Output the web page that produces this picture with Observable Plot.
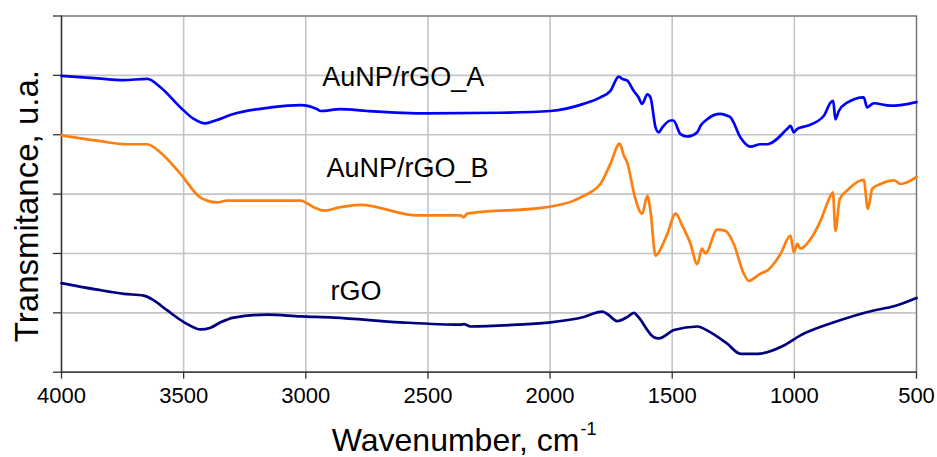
<!DOCTYPE html>
<html>
<head>
<meta charset="utf-8">
<script src="https://cdn.jsdelivr.net/npm/d3@7"></script>
<script src="https://cdn.jsdelivr.net/npm/@observablehq/plot@0.6"></script>
<style>
  html, body { margin: 0; padding: 0; background: #fff; }
  #chart { width: 937px; height: 457px; }
</style>
</head>
<body>
<div id="chart"></div>
<script>
// ---- data ----
const seriesNames = ["AuNP/rGO_A", "AuNP/rGO_B", "rGO"];
const seriesColors = ["#0000ff", "#ff7f0e", "#000080"];

const aWavenumber = [4000, 3853, 3746, 3649, 3595, 3513, 3460, 3411, 3370, 3296, 3144, 3022, 2953, 2940, 2858, 2749, 2503, 2203, 1998, 1863, 1794, 1753, 1719, 1705, 1684, 1658, 1638, 1623, 1602, 1589, 1568, 1555, 1541, 1507, 1495, 1466, 1439, 1398, 1384, 1357, 1330, 1302, 1275, 1261, 1220, 1180, 1139, 1111, 1029, 1016, 1002, 988, 947, 879, 852, 841, 832, 818, 784, 716, 702, 675, 606, 565, 500];
const aTransmittance = [4.99, 4.95, 4.92, 4.94, 4.80, 4.46, 4.27, 4.19, 4.24, 4.35, 4.46, 4.50, 4.43, 4.40, 4.43, 4.40, 4.36, 4.37, 4.40, 4.52, 4.63, 4.74, 4.98, 4.94, 4.91, 4.74, 4.63, 4.52, 4.68, 4.63, 4.12, 4.04, 4.12, 4.24, 4.24, 4.01, 3.97, 4.04, 4.15, 4.26, 4.33, 4.35, 4.32, 4.29, 3.95, 3.80, 3.84, 3.84, 4.10, 4.15, 4.04, 4.10, 4.15, 4.32, 4.54, 4.57, 4.26, 4.40, 4.54, 4.63, 4.46, 4.53, 4.49, 4.50, 4.55];

const bWavenumber = [4000, 3854, 3731, 3649, 3595, 3513, 3431, 3404, 3363, 3322, 3022, 2968, 2926, 2858, 2776, 2544, 2367, 2353, 2340, 2012, 1903, 1863, 1830, 1794, 1753, 1715, 1698, 1684, 1654, 1623, 1602, 1589, 1568, 1555, 1520, 1486, 1459, 1425, 1398, 1378, 1364, 1316, 1282, 1248, 1207, 1187, 1139, 1111, 1057, 1016, 1002, 988, 975, 934, 893, 852, 842, 832, 814, 784, 729, 716, 699, 681, 647, 593, 565, 538, 500];
const bTransmittance = [3.99, 3.90, 3.84, 3.84, 3.70, 3.34, 2.94, 2.89, 2.86, 2.89, 2.89, 2.78, 2.72, 2.78, 2.82, 2.64, 2.64, 2.61, 2.67, 2.78, 2.89, 2.97, 3.04, 3.17, 3.51, 3.85, 3.65, 3.53, 2.97, 2.67, 2.97, 2.72, 1.96, 2.02, 2.33, 2.67, 2.47, 2.16, 1.82, 2.08, 2.00, 2.40, 2.38, 2.16, 1.66, 1.54, 1.66, 1.71, 1.99, 2.30, 2.02, 2.16, 2.08, 2.24, 2.55, 2.97, 3.03, 2.38, 2.92, 3.06, 3.23, 3.24, 2.75, 3.09, 3.17, 3.23, 3.17, 3.20, 3.29];

const rWavenumber = [4000, 3854, 3745, 3663, 3622, 3567, 3485, 3431, 3390, 3349, 3295, 3158, 3022, 2885, 2612, 2367, 2353, 2326, 2135, 1998, 1862, 1787, 1766, 1725, 1684, 1657, 1643, 1575, 1555, 1493, 1398, 1343, 1275, 1220, 1151, 1043, 975, 838, 675, 593, 500];
const rTransmittance = [1.50, 1.39, 1.32, 1.29, 1.21, 1.04, 0.81, 0.72, 0.75, 0.84, 0.92, 0.97, 0.94, 0.92, 0.84, 0.80, 0.81, 0.77, 0.80, 0.84, 0.93, 1.02, 0.98, 0.86, 0.93, 1.00, 0.95, 0.59, 0.57, 0.71, 0.77, 0.67, 0.48, 0.31, 0.31, 0.45, 0.62, 0.84, 1.04, 1.11, 1.25];

const xTicks = [4000, 3500, 3000, 2500, 2000, 1500, 1000, 500];
const yTicks = [0, 1, 2, 3, 4, 5, 6];

// label anchors (data units)
const labelWavenumber = [2933, 2915, 2899];
const labelTransmittance = [4.82, 3.28, 1.21];

const xTitle = "Wavenumber, cm";
const xTitleSup = "-1";
const yTitle = "Transmitance, u.a.";

// ---- build tables ----
const lines = [
  {name: seriesNames[0], wn: aWavenumber, t: aTransmittance},
  {name: seriesNames[1], wn: bWavenumber, t: bTransmittance},
  {name: seriesNames[2], wn: rWavenumber, t: rTransmittance}
].flatMap(s => s.wn.map((w, i) => ({series: s.name, wn: w, t: s.t[i]})));

const labels = seriesNames.map((n, i) => ({name: n, wn: labelWavenumber[i], t: labelTransmittance[i]}));

const font = "'Liberation Sans', Arial, Helvetica, sans-serif";

const chart = Plot.plot({
  width: 937,
  height: 457,
  marginLeft: 61,
  marginRight: 21,
  marginTop: 15.5,
  marginBottom: 85.3,
  style: {fontFamily: font, background: "#fff", color: "#000"},
  x: {domain: [4000, 500], ticks: xTicks},
  y: {domain: [0, 6], ticks: yTicks},
  color: {domain: seriesNames, range: seriesColors},
  marks: [
    Plot.gridX(xTicks, {stroke: "#c4c4c4", strokeOpacity: 1, strokeWidth: 1.6}),
    Plot.gridY(yTicks, {stroke: "#c4c4c4", strokeOpacity: 1, strokeWidth: 1.6}),
    Plot.frame({stroke: "#777", strokeWidth: 1.3}),
    Plot.ruleX([4000], {stroke: "#333", strokeWidth: 1.3}),
    Plot.ruleY([0], {stroke: "#333", strokeWidth: 1.3}),
    Plot.axisX(xTicks, {tickSize: 7, tickPadding: 8, fontSize: 22, tickFormat: d => String(d), label: null, stroke: "#333", strokeWidth: 1.3}),
    Plot.axisY(yTicks, {tickSize: 8, tickFormat: () => "", label: null, stroke: "#333", strokeWidth: 1.3}),
    Plot.line(lines, {x: "wn", y: "t", z: "series", stroke: "series", strokeWidth: 2.7, strokeLinejoin: "round", curve: "monotone-x"}),
    Plot.text(labels, {x: "wn", y: "t", text: "name", textAnchor: "start", lineAnchor: "bottom", fontSize: 27, fill: "#000"}),
    Plot.text([xTitle], {frameAnchor: "bottom", textAnchor: "end", lineAnchor: "bottom", dx: 90.5, dy: 78.3, fontSize: 32, fill: "#000"}),
    Plot.text([xTitleSup], {frameAnchor: "bottom", textAnchor: "start", lineAnchor: "bottom", dx: 91.5, dy: 63, fontSize: 18, fill: "#000"}),
    Plot.text([yTitle], {frameAnchor: "left", textAnchor: "middle", rotate: -90, dx: -34, dy: 12, fontSize: 33, fill: "#000"})
  ]
});

document.getElementById("chart").appendChild(chart);
</script>
</body>
</html>
